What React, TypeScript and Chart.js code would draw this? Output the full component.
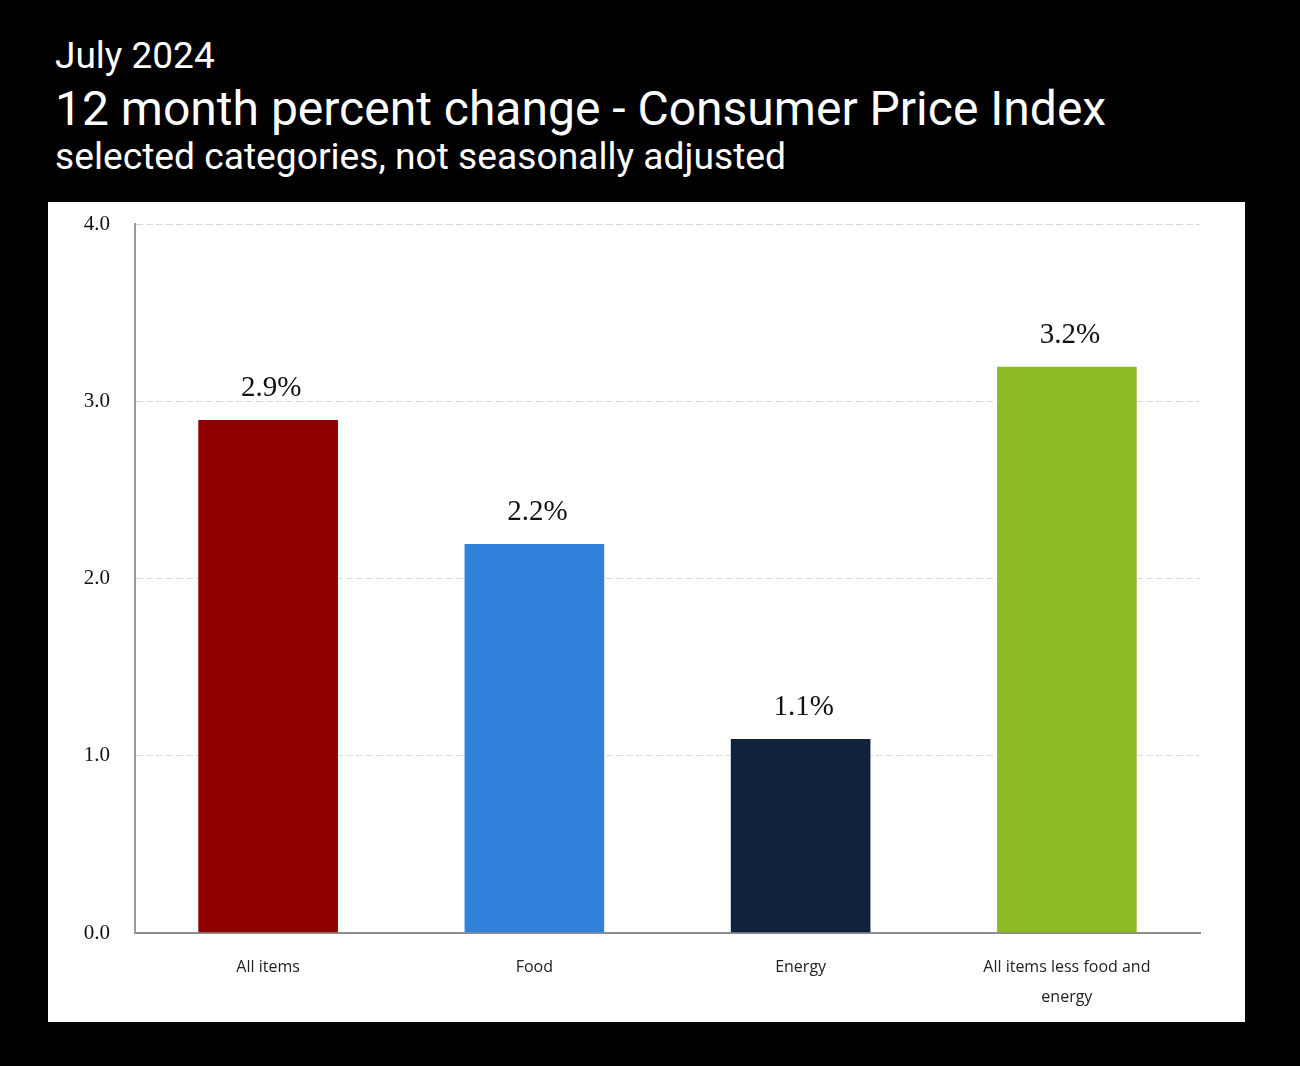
import React, { useEffect, useRef } from "react";
import { Chart, registerables } from "chart.js";

Chart.register(...registerables);

const categories: (string | string[])[] = ["All items", "Food", "Energy", ["All items less food and", "energy"]];
const values: number[] = [2.9, 2.2, 1.1, 3.2];
const barColors: string[] = ["#8F0000", "#3182DB", "#0F233C", "#8BBC24"];
const yTicks: number[] = [0, 1, 2, 3, 4];
const titleLine1 = "July 2024";
const titleLine2 = "12 month percent change - Consumer Price Index";
const titleLine3 = "selected categories, not seasonally adjusted";

const valueLabelPlugin = {
  id: "valueLabels",
  afterDatasetsDraw(chart: any) {
    const { ctx } = chart;
    const meta = chart.getDatasetMeta(0);
    ctx.save();
    ctx.font = "29px 'Liberation Serif', 'Times New Roman', serif";
    ctx.fillStyle = "#111";
    ctx.textAlign = "center";
    ctx.textBaseline = "alphabetic";
    meta.data.forEach((bar: any, i: number) => {
      ctx.fillText(values[i].toFixed(1) + "%", bar.x + 3, bar.y - 23);
    });
    ctx.restore();
  },
};

export default function App() {
  const canvasRef = useRef<HTMLCanvasElement | null>(null);

  useEffect(() => {
    if (!canvasRef.current) return;
    const chart = new Chart(canvasRef.current, {
      type: "bar",
      data: {
        labels: categories,
        datasets: [
          {
            data: values,
            backgroundColor: barColors,
            borderColor: "#ffffff",
            borderWidth: 1,
            categoryPercentage: 1,
            barPercentage: 0.532,
          },
        ],
      },
      options: {
        animation: false,
        responsive: true,
        maintainAspectRatio: false,
        layout: { padding: { top: 22, right: 45, bottom: 0, left: 0 } },
        plugins: {
          legend: { display: false },
          tooltip: { enabled: false },
          title: { display: false },
        },
        scales: {
          x: {
            grid: { display: false, drawTicks: false },
            border: { display: true, color: "#8c8c8c", width: 2 },
            ticks: {
              color: "#222",
              padding: 19,
              maxRotation: 0,
              autoSkip: false,
              font: { family: "'Open Sans', 'Noto Sans', sans-serif", size: 16, lineHeight: 1.9 },
            },
            afterFit(scale: any) {
              scale.height = 89;
            },
          },
          y: {
            min: 0,
            max: 4,
            afterBuildTicks(scale: any) {
              scale.ticks = yTicks.map((v) => ({ value: v }));
            },
            grid: { color: "#d9d9d9", lineWidth: 1, drawTicks: false },
            border: { display: true, color: "#999999", width: 2, dash: [7, 3] },
            ticks: {
              color: "#111",
              padding: 25,
              font: { family: "'Liberation Serif', 'Times New Roman', serif", size: 21 },
              callback: (v: any) => Number(v).toFixed(1),
            },
            afterFit(scale: any) {
              scale.width = 87;
              scale.paddingTop = 0;
              scale.paddingBottom = 0;
            },
          },
        },
      },
      plugins: [valueLabelPlugin],
    });
    return () => chart.destroy();
  }, []);

  const titleBase: React.CSSProperties = {
    position: "absolute",
    left: 55,
    margin: 0,
    color: "#ffffff",
    fontFamily: "Roboto, sans-serif",
    lineHeight: 1,
    whiteSpace: "nowrap",
  };

  return (
    <div style={{ position: "fixed", left: 0, top: 0, width: 1300, height: 1066, background: "#000000", overflow: "hidden" }}>
      <div style={{ ...titleBase, top: 37, fontSize: 37 }}>{titleLine1}</div>
      <div style={{ ...titleBase, top: 85, fontSize: 48 }}>{titleLine2}</div>
      <div style={{ ...titleBase, top: 138, fontSize: 37.2 }}>{titleLine3}</div>
      <div style={{ position: "absolute", left: 48, top: 202, width: 1197, height: 820, background: "#ffffff" }}>
        <canvas ref={canvasRef} />
      </div>
    </div>
  );
}
